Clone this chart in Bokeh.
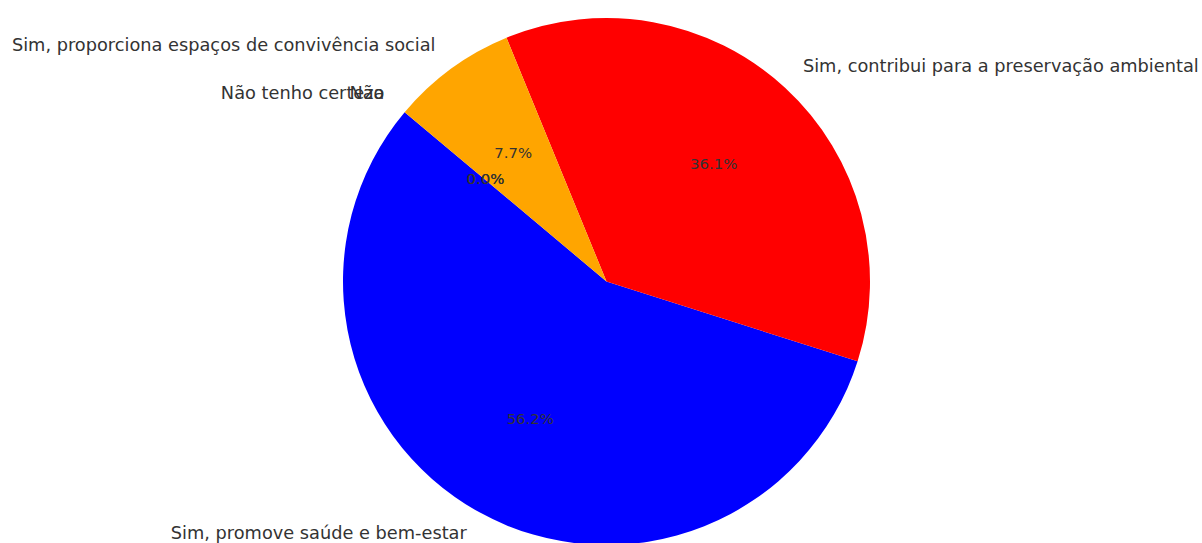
import numpy as np
from bokeh.plotting import figure
from bokeh.models import Range1d, ColumnDataSource
from bokeh.core.properties import value
from bokeh.embed import file_html
from bokeh.resources import INLINE

labels = ["Sim, promove saúde e bem-estar",
          "Sim, contribui para a preservação ambiental",
          "Sim, proporciona espaços de convivência social",
          "Não tenho certeza",
          "Não"]
counts = [95, 61, 13, 0, 0]
colors = ["blue", "red", "orange", "green", "purple"]
start_deg = 140

W, H = 1202, 543
R_PX = 263.5
CX, CY = 606, 281  # pie centre in figure pixels (from top-left)

vals = np.array(counts, dtype=float)
frac = vals / vals.sum()
cum = np.concatenate([[0], np.cumsum(frac)])
starts = np.deg2rad(start_deg + 360 * cum[:-1])
ends = np.deg2rad(start_deg + 360 * cum[1:])
mids = (starts + ends) / 2

p = figure(width=W, height=H, output_backend="svg", toolbar_location=None,
           min_border=0, outline_line_color=None,
           x_range=Range1d(-CX / R_PX, (W - CX) / R_PX),
           y_range=Range1d(-(H - CY) / R_PX, CY / R_PX))
p.axis.visible = False
p.grid.visible = False
p.background_fill_color = "white"
p.border_fill_color = "white"

nz = frac > 0
src = ColumnDataSource(dict(s=starts[nz], e=ends[nz],
                            c=[c for c, k in zip(colors, nz) if k]))
p.wedge(x=0, y=0, radius=1, start_angle="s", end_angle="e", fill_color="c",
        line_color=None, source=src, direction="anticlock")

# outer labels
lx = 1.1 * np.cos(mids)
ly = 1.1 * np.sin(mids)
for t, x, y in zip(labels, lx, ly):
    p.text(x=[x], y=[y], text=[t], text_font=value("DejaVu Sans"),
           text_font_size="17.75px", text_color="#333333", y_offset=-2,
           text_align="right" if x < 0 else "left", text_baseline="middle")

# percentage labels
px_ = 0.6 * np.cos(mids)
py_ = 0.6 * np.sin(mids)
pct = ["%.1f%%" % (100 * f) for f in frac]
p.text(x=px_, y=py_, text=pct, text_font=value("DejaVu Sans"),
       text_font_size="14.9px", text_color="#333333", y_offset=-1,
       text_align="center", text_baseline="middle")

open("out.html", "w").write(file_html(p, INLINE))
